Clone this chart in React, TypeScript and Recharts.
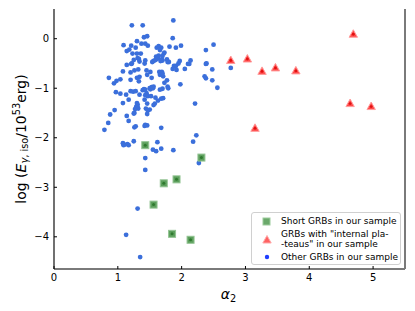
import React from 'react';
import { ScatterChart, Scatter, XAxis, YAxis, Legend, Label } from 'recharts';

// [alpha2, log E]
const otherGRBs: [number, number][] = [
  [1.22, 0.27], [1.39, 0.27], [1.87, 0.37], [1.41, 0.03], [1.46, 0.05], [1.86, 0.01],
  [1.09, -0.13], [1.21, -0.14], [1.30, -0.05], [1.37, -0.10], [1.43, -0.10], [1.47, -0.14],
  [1.61, -0.18], [1.64, -0.15], [1.68, -0.18], [1.81, -0.16], [1.91, -0.18], [1.99, -0.14],
  [1.14, -0.25], [1.18, -0.22], [1.28, -0.18], [1.30, -0.30], [1.23, -0.30], [1.36, -0.30],
  [1.72, -0.30], [1.70, -0.35], [1.60, -0.36], [1.64, -0.34], [1.63, -0.39], [1.61, -0.41],
  [1.59, -0.43], [1.56, -0.45], [1.54, -0.47], [1.69, -0.42], [1.70, -0.44], [1.77, -0.42],
  [1.78, -0.47], [1.66, -0.23], [1.73, -0.28], [1.67, -0.45],
  [1.31, -0.39], [1.33, -0.41], [1.25, -0.43], [1.34, -0.46], [1.43, -0.44], [1.21, -0.51],
  [1.22, -0.50], [1.14, -0.53], [1.42, -0.50],
  [1.97, -0.45], [1.95, -0.50], [2.10, -0.51], [2.12, -0.51], [2.14, -0.44], [2.05, -0.61],
  [1.91, -0.55], [1.88, -0.55], [1.92, -0.63], [1.86, -0.61], [1.80, -0.47],
  [1.26, -0.64], [1.32, -0.62], [1.20, -0.68], [1.08, -0.66], [1.45, -0.64], [1.51, -0.67],
  [1.65, -0.67], [1.69, -0.67], [1.66, -0.73], [1.70, -0.70],
  [0.86, -0.79], [1.04, -0.82], [0.98, -0.85], [0.94, -0.90], [1.20, -0.83], [1.30, -0.79],
  [1.33, -0.86], [1.34, -0.77], [1.46, -0.73], [1.53, -0.79], [1.71, -0.76], [1.77, -0.84],
  [1.73, -0.89],
  [1.53, -0.98], [1.50, -1.00], [1.51, -1.02], [1.55, -1.00], [1.56, -0.97],
  [1.41, -1.02], [1.39, -1.04], [1.43, -1.03], [1.78, -0.97], [1.79, -1.00], [1.70, -1.01],
  [1.66, -1.03], [1.98, -0.92],
  [0.97, -1.08], [1.04, -1.11], [1.13, -1.13], [1.20, -1.06], [1.24, -1.07], [1.28, -1.06],
  [1.34, -1.13], [1.43, -1.14], [1.45, -1.10], [1.47, -1.16], [1.52, -1.16],
  [1.59, -1.19], [1.71, -1.20], [1.68, -1.21], [1.17, -1.23],
  [1.30, -1.30], [1.31, -1.33], [1.30, -1.36], [1.31, -1.38], [1.32, -1.41], [1.29, -1.37],
  [1.27, -1.42], [1.42, -1.23], [1.46, -1.31], [1.56, -1.34], [1.58, -1.31], [1.63, -1.25],
  [1.08, -1.30],
  [0.95, -1.44], [0.88, -1.53], [1.14, -1.56], [1.17, -1.66], [1.26, -1.50], [1.25, -1.51],
  [1.44, -1.41], [1.47, -1.45], [1.50, -1.43], [1.46, -1.52],
  [0.85, -1.70], [0.79, -1.84], [1.26, -1.79], [1.28, -1.77], [1.43, -1.74], [1.46, -1.75],
  [1.42, -1.76], [1.68, -1.80], [2.21, -1.31],
  [1.08, -2.11], [1.10, -2.14], [1.09, -2.15], [1.17, -2.15], [1.15, -2.13], [1.25, -2.07],
  [1.62, -2.09], [2.18, -2.08], [2.23, -1.95],
  [1.55, -2.24], [1.60, -2.27], [1.68, -2.22], [1.87, -2.25],
  [1.43, -2.41], [1.43, -2.65], [2.27, -2.51], [1.31, -3.43], [1.13, -3.96], [1.35, -4.41],
  [2.38, -0.23], [2.50, -0.12], [2.38, -0.51], [2.39, -0.50], [2.48, -0.62], [2.36, -0.76],
  [2.38, -0.80], [2.48, -0.84], [2.56, -0.99], [2.77, -0.59],
];

const shortGRBs: [number, number][] = [
  [1.43, -2.15], [2.31, -2.40], [1.72, -2.92], [1.92, -2.84], [1.56, -3.35], [1.85, -3.94], [2.14, -4.06],
];

const plateauGRBs: [number, number][] = [
  [4.69, 0.09], [2.77, -0.44], [3.03, -0.41], [3.26, -0.66], [3.47, -0.59], [3.79, -0.65],
  [4.64, -1.31], [4.97, -1.37], [3.15, -1.81],
];

const xTicks = [0, 1, 2, 3, 4, 5];
const yTicks = [-4, -3, -2, -1, 0];
const xDomain: [number, number] = [0, 5.5];
const yDomain: [number, number] = [-4.65, 0.6];

const legendShort = 'Short GRBs in our sample';
const legendPlateau = ['GRBs with "internal pla-', '-teaus" in our sample'];
const legendOther = 'Other GRBs in our sample';

const toObj = (arr: [number, number][]) => arr.map(([x, y]) => ({ x, y }));

const FONT = 'DejaVu Sans';
const BLUE = '#3b6fdb';

const fmt = (v: number) => String(v).replace('-', '\u2212');

const Dot = (p: any) => <circle cx={p.cx} cy={p.cy} r={2.4} fill={BLUE} />;

const Square = (p: any) => (
  <g>
    <rect x={p.cx - 3.5} y={p.cy - 3.5} width={7} height={7} fill="#5c9f5c" stroke="#93c493" strokeWidth={1} />
    <circle cx={p.cx} cy={p.cy} r={1.5} fill="#2f7a2f" />
  </g>
);

const Triangle = (p: any) => (
  <g>
    <polygon
      points={`${p.cx},${p.cy - 4.5} ${p.cx - 4.2},${p.cy + 3} ${p.cx + 4.2},${p.cy + 3}`}
      fill="#ff4a4a"
      stroke="#ff9c9c"
      strokeWidth={1}
    />
    <circle cx={p.cx} cy={p.cy} r={1.4} fill="#e01010" />
  </g>
);

const YLabel = (props: any) => {
  const vb = props.viewBox;
  const cx = vb.x + 7;
  const cy = vb.y + vb.height / 2;
  return (
    <text
      x={cx}
      y={cy}
      transform={`rotate(-90 ${cx} ${cy})`}
      textAnchor="middle"
      dominantBaseline="central"
      fontSize={14}
      fontFamily={FONT}
      fill="#000"
    >
      <tspan>log (</tspan>
      <tspan fontStyle="italic">E</tspan>
      <tspan fontSize={9.8} dy={3}>
        <tspan fontStyle="italic">γ</tspan>, iso
      </tspan>
      <tspan dy={-3}>/10</tspan>
      <tspan fontSize={9.8} dy={-5}>53</tspan>
      <tspan dy={5}>erg)</tspan>
    </text>
  );
};

const XLabel = (props: any) => {
  const vb = props.viewBox;
  const cx = vb.x + vb.width / 2 - 1;
  const cy = vb.y + 30;
  return (
    <text x={cx} y={cy} textAnchor="middle" fontSize={14} fontFamily={FONT} fill="#000">
      <tspan fontStyle="italic">α</tspan>
      <tspan fontSize={9.8} dy={2.5}>2</tspan>
    </text>
  );
};

const LegendBox = () => {
  const row: React.CSSProperties = { display: 'flex', alignItems: 'center', lineHeight: '10px' };
  const mark: React.CSSProperties = { width: 29, display: 'flex', justifyContent: 'center', paddingLeft: 0 };
  return (
    <div
      style={{
        width: 150,
        height: 53,
        boxSizing: 'border-box',
        border: '1px solid #d0d0d0',
        borderRadius: 3,
        background: 'rgba(255,255,255,0.85)',
        fontFamily: FONT,
        fontSize: 9,
        color: '#000',
        padding: '3px 0 0 0',
      }}
    >
      <div style={row}>
        <div style={mark}>
          <svg width={9} height={9}>
            <rect x={1} y={1} width={7} height={7} fill="#6aa86a" stroke="#9ccb9c" strokeWidth={1} />
          </svg>
        </div>
        <div style={{ whiteSpace: 'nowrap' }}>{legendShort}</div>
      </div>
      <div style={{ ...row, marginTop: 3 }}>
        <div style={mark}>
          <svg width={10} height={9}>
            <polygon points="5,0.5 0.8,8 9.2,8" fill="#ff6262" stroke="#ffa8a8" strokeWidth={1} />
          </svg>
        </div>
        <div style={{ whiteSpace: 'nowrap' }}>
          {legendPlateau[0]}
          <br />
          {legendPlateau[1]}
        </div>
      </div>
      <div style={{ ...row, marginTop: 3 }}>
        <div style={mark}>
          <svg width={6} height={6}>
            <circle cx={3} cy={3} r={2.2} fill="#1f3fff" />
          </svg>
        </div>
        <div style={{ whiteSpace: 'nowrap' }}>{legendOther}</div>
      </div>
    </div>
  );
};

export default function App() {
  return (
    <div style={{ position: 'absolute', left: 0, top: 0 }}>
      <ScatterChart width={415} height={311} margin={{ top: 9, right: 9, bottom: 12, left: 14 }}>
        <XAxis
          xAxisId="main"
          type="number"
          dataKey="x"
          domain={xDomain}
          ticks={xTicks}
          allowDataOverflow
          orientation="bottom"
          height={30}
          tickSize={-3}
          tickMargin={8}
          tickLine={{ stroke: '#000' }}
          axisLine={{ stroke: '#7a7a7a', strokeWidth: 2 }}
          tick={{ fontSize: 10, fontFamily: FONT, fill: '#000' }}
          tickFormatter={fmt}
        >
          <Label content={XLabel} />
        </XAxis>
        <XAxis
          xAxisId="top"
          type="number"
          domain={xDomain}
          orientation="top"
          height={0}
          tick={false}
          tickLine={false}
          axisLine={{ stroke: '#111', strokeWidth: 1.2 }}
        />
        <YAxis
          yAxisId="main"
          type="number"
          dataKey="y"
          domain={yDomain}
          ticks={yTicks}
          allowDataOverflow
          orientation="left"
          width={40}
          tickSize={-3}
          tickMargin={8}
          tickLine={{ stroke: '#000' }}
          axisLine={{ stroke: '#111', strokeWidth: 1.2 }}
          tick={{ fontSize: 10, fontFamily: FONT, fill: '#000' }}
          tickFormatter={fmt}
        >
          <Label content={YLabel} />
        </YAxis>
        <YAxis
          yAxisId="right"
          type="number"
          domain={yDomain}
          orientation="right"
          width={1}
          tick={false}
          tickLine={false}
          axisLine={{ stroke: '#7a7a7a', strokeWidth: 2 }}
        />
        <Scatter
          name={legendOther}
          xAxisId="main"
          yAxisId="main"
          data={toObj(otherGRBs)}
          shape={Dot}
          isAnimationActive={false}
        />
        <Scatter
          name={legendShort}
          xAxisId="main"
          yAxisId="main"
          data={toObj(shortGRBs)}
          shape={Square}
          isAnimationActive={false}
        />
        <Scatter
          name={legendPlateau.join('')}
          xAxisId="main"
          yAxisId="main"
          data={toObj(plateauGRBs)}
          shape={Triangle}
          isAnimationActive={false}
        />
        <Legend
          layout="vertical"
          align="center"
          verticalAlign="middle"
          content={LegendBox}
          wrapperStyle={{ left: 251, top: 212, width: 150, height: 53 }}
        />
      </ScatterChart>
    </div>
  );
}
